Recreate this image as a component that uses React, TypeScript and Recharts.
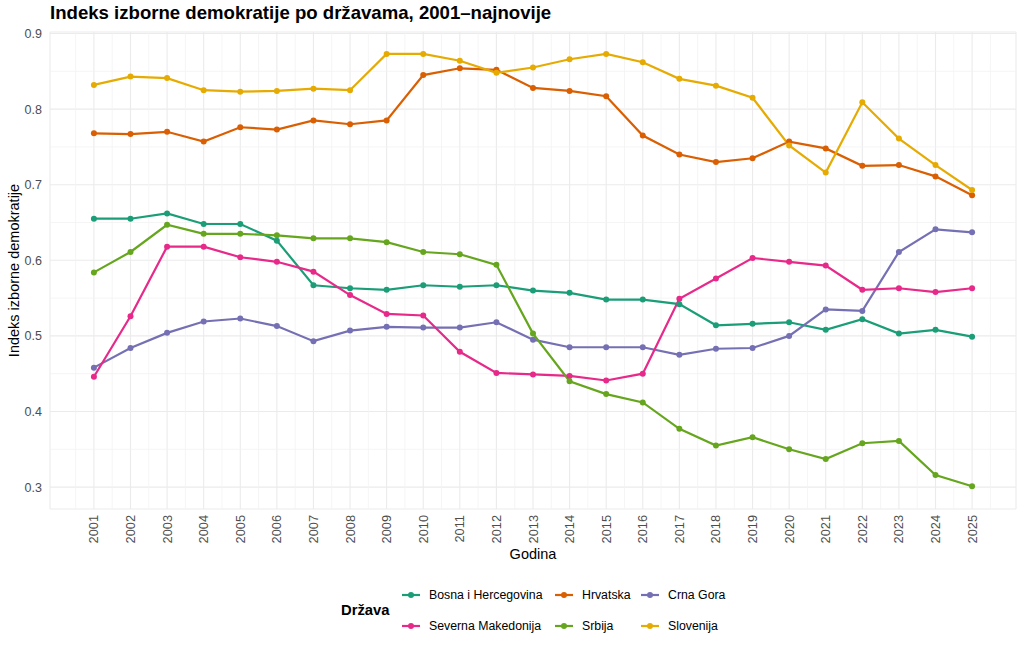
import React from "react";
import { LineChart, Line, XAxis, YAxis, CartesianGrid, ReferenceLine } from "recharts";

const years = [
  2001, 2002, 2003, 2004, 2005, 2006, 2007, 2008, 2009, 2010, 2011, 2012, 2013,
  2014, 2015, 2016, 2017, 2018, 2019, 2020, 2021, 2022, 2023, 2024, 2025,
];

const bih = [
  0.655, 0.655, 0.662, 0.648, 0.648, 0.626, 0.567, 0.563, 0.561, 0.567, 0.565, 0.567, 0.56,
  0.557, 0.548, 0.548, 0.542, 0.514, 0.516, 0.518, 0.508, 0.522, 0.503, 0.508, 0.499,
];
const hrvatska = [
  0.768, 0.767, 0.77, 0.757, 0.776, 0.773, 0.785, 0.78, 0.785, 0.845, 0.854, 0.852, 0.828,
  0.824, 0.817, 0.765, 0.74, 0.73, 0.735, 0.757, 0.748, 0.725, 0.726, 0.711, 0.686,
];
const crnaGora = [
  0.458, 0.484, 0.504, 0.519, 0.523, 0.513, 0.493, 0.507, 0.512, 0.511, 0.511, 0.518, 0.495,
  0.485, 0.485, 0.485, 0.475, 0.483, 0.484, 0.5, 0.535, 0.533, 0.611, 0.641, 0.637,
];
const sevMakedonija = [
  0.446, 0.526, 0.618, 0.618, 0.604, 0.598, 0.585, 0.554, 0.529, 0.527, 0.479, 0.451, 0.449,
  0.447, 0.441, 0.45, 0.549, 0.576, 0.603, 0.598, 0.593, 0.561, 0.563, 0.558, 0.563,
];
const srbija = [
  0.584, 0.611, 0.647, 0.635, 0.635, 0.633, 0.629, 0.629, 0.624, 0.611, 0.608, 0.594, 0.503,
  0.44, 0.423, 0.412, 0.377, 0.355, 0.366, 0.35, 0.337, 0.358, 0.361, 0.316, 0.301,
];
const slovenija = [
  0.832, 0.843, 0.841, 0.825, 0.823, 0.824, 0.827, 0.825, 0.873, 0.873, 0.864, 0.848, 0.855,
  0.866, 0.873, 0.862, 0.84, 0.831, 0.815, 0.752, 0.716, 0.809, 0.761, 0.726, 0.693,
];

const yTicks = [0.3, 0.4, 0.5, 0.6, 0.7, 0.8, 0.9];
const yMinor = [0.35, 0.45, 0.55, 0.65, 0.75, 0.85];
const xMinor = [2000.5, ...years.map((y) => y + 0.5)];

const series = [
  { key: "bih", name: "Bosna i Hercegovina", color: "#1B9E77", values: bih },
  { key: "hrv", name: "Hrvatska", color: "#D95F02", values: hrvatska },
  { key: "mne", name: "Crna Gora", color: "#7570B3", values: crnaGora },
  { key: "mkd", name: "Severna Makedonija", color: "#E7298A", values: sevMakedonija },
  { key: "srb", name: "Srbija", color: "#66A61E", values: srbija },
  { key: "slo", name: "Slovenija", color: "#E6AB02", values: slovenija },
];

const data = years.map((year, i) => {
  const row: any = { year };
  series.forEach((s) => (row[s.key] = s.values[i]));
  return row;
});

const FONT = "'Liberation Sans', Arial, sans-serif";

const YearTick = (props: any) => {
  const { x, y, payload } = props;
  return (
    <text
      x={0}
      y={0}
      transform={`translate(${x + 4.5},${y - 2}) rotate(-90)`}
      textAnchor="end"
      fontSize={12.8}
      fill="#4d4d4d"
      fontFamily={FONT}
    >
      {payload.value}
    </text>
  );
};

const LegendKey = ({ color }: { color: string }) => (
  <svg width={18} height={8} style={{ display: "block" }}>
    <line x1={0} y1={4} x2={18} y2={4} stroke={color} strokeWidth={2.2} />
    <circle cx={9} cy={4} r={3} fill={color} />
  </svg>
);

const legendCols = [402, 555, 641];
const legendRows = [595, 626];

export default function App() {
  return (
    <div style={{ position: "absolute", left: 0, top: 0, width: 1024, height: 652, background: "#fff", fontFamily: FONT }}>
      <div style={{ position: "absolute", left: 50, top: 2, fontSize: 18.6, fontWeight: "bold", color: "#000" }}>
        Indeks izborne demokratije po državama, 2001–najnovije
      </div>
      <LineChart width={1024} height={652} data={data} margin={{ top: 32, right: 8, left: 0, bottom: 83 }}>
        <CartesianGrid stroke="#EBEBEB" strokeWidth={1.1} />
        {yMinor.map((v) => (
          <ReferenceLine key={`ym${v}`} y={v} stroke="#F2F2F2" strokeWidth={0.8} />
        ))}
        {xMinor.map((v) => (
          <ReferenceLine key={`xm${v}`} x={v} stroke="#F2F2F2" strokeWidth={0.8} />
        ))}
        <XAxis
          dataKey="year"
          type="number"
          domain={[1999.8, 2026.2]}
          ticks={years}
          interval={0}
          axisLine={false}
          tickLine={false}
          height={60}
          tick={<YearTick />}
          label={{ value: "Godina", position: "insideBottom", offset: 0, fontSize: 14.5, fill: "#000", fontFamily: FONT, dy: -10 }}
        />
        <YAxis
          type="number"
          domain={[0.271, 0.902]}
          ticks={yTicks}
          axisLine={false}
          tickLine={false}
          width={50}
          tick={{ fontSize: 12.5, fill: "#4d4d4d", fontFamily: FONT }}
          tickFormatter={(v) => String(v)}
          label={{ value: "Indeks izborne demokratije", angle: -90, position: "insideLeft", offset: 14, fontSize: 14.5, fill: "#000", fontFamily: FONT, style: { textAnchor: "middle" } }}
        />
        {series.map((s) => (
          <Line
            key={s.key}
            dataKey={s.key}
            name={s.name}
            stroke={s.color}
            strokeWidth={2.2}
            dot={{ r: 3, fill: s.color, stroke: s.color, strokeWidth: 0 }}
            activeDot={false}
            isAnimationActive={false}
          />
        ))}
      </LineChart>
      <div style={{ position: "absolute", left: 341, top: 602, fontSize: 14.8, fontWeight: "bold", color: "#000" }}>Država</div>
      {series.map((s, i) => {
        const col = i % 3;
        const row = Math.floor(i / 3);
        return (
          <div
            key={s.key}
            style={{ position: "absolute", left: legendCols[col], top: legendRows[row] - 8, display: "flex", alignItems: "center", height: 16 }}
          >
            <LegendKey color={s.color} />
            <span style={{ marginLeft: 9, fontSize: 12.3, color: "#000" }}>{s.name}</span>
          </div>
        );
      })}
    </div>
  );
}
